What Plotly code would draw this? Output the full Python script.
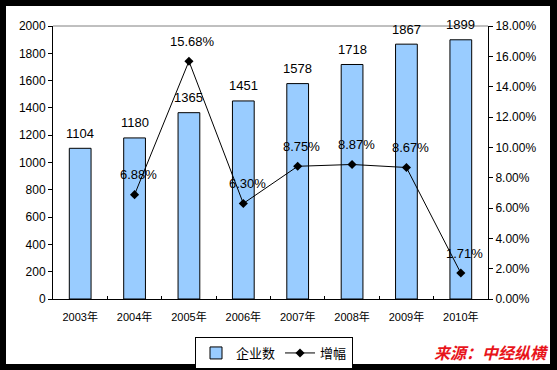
import plotly.graph_objects as go

years = ["2003年", "2004年", "2005年", "2006年", "2007年", "2008年", "2009年", "2010年"]
companies = [1104, 1180, 1365, 1451, 1578, 1718, 1867, 1899]
growth_years = ["2004年", "2005年", "2006年", "2007年", "2008年", "2009年", "2010年"]
growth = [0.0688, 0.1568, 0.0630, 0.0875, 0.0887, 0.0867, 0.0171]
left_ticks = list(range(0, 2001, 200))
right_ticks = [i / 100 for i in range(0, 19, 2)]

FONT = "Liberation Sans, Arial, Noto Sans CJK SC, sans-serif"

fig = go.Figure()
fig.add_trace(go.Bar(
    x=years, y=companies, name="企业数",
    marker=dict(color="#99CCFF", line=dict(color="black", width=1)),
    width=0.4,
))
fig.add_trace(go.Scatter(
    x=growth_years, y=growth, name="增幅", yaxis="y2",
    mode="lines+markers",
    line=dict(color="black", width=1),
    marker=dict(symbol="diamond", size=7, color="black"),
    cliponaxis=False,
))

annotations = []
for x, v in zip(years, companies):
    annotations.append(dict(x=x, y=v, xref="x", yref="y", text=str(v), showarrow=False,
                            yanchor="middle", yshift=15,
                            font=dict(size=13, color="black", family=FONT)))
for x, v in zip(growth_years, growth):
    annotations.append(dict(x=x, y=v, xref="x", yref="y2", text=f"{v*100:.2f}%", showarrow=False,
                            yanchor="middle", yshift=20, xshift=4,
                            font=dict(size=13, color="black", family=FONT)))

L, R, T, B = 53, 69, 26, 71
W, H = 557, 370
pw, ph = W - L - R, H - T - B

def px_x(p):
    return (p - L) / pw

def px_y(p):
    return (H - B - p) / ph

annotations.append(dict(text="<b><i>来源：中经纵横</i></b>", xref="paper", yref="paper",
                        x=px_x(551), y=px_y(352), xanchor="right", yanchor="middle",
                        showarrow=False, font=dict(size=16, color="#E8141B", family="Noto Sans CJK SC")))

fig.update_layout(
    width=W, height=H,
    margin=dict(l=L, r=R, t=T, b=B, pad=0, autoexpand=False),
    paper_bgcolor="black", plot_bgcolor="white",
    font=dict(family=FONT, color="black", size=12),
    bargap=0.6,
    showlegend=True,
    legend=dict(
        orientation="h", x=px_x(195), y=px_y(337), xanchor="left", yanchor="top",
        bordercolor="black", borderwidth=1, bgcolor="white",
        font=dict(size=13, family=FONT), itemwidth=30,
        tracegroupgap=0,
    ),
    xaxis=dict(
        type="category", showline=True, linecolor="black", linewidth=1,
        ticks="inside", tickson="boundaries", ticklen=3, tickcolor="black",
        ticklabelstandoff=8,
        tickfont=dict(size=11), showgrid=False,
    ),
    yaxis=dict(
        range=[0, 2000], tickvals=left_ticks, showline=True, linecolor="black",
        linewidth=1, ticks="outside", ticklen=4, tickcolor="black",
        showgrid=False, tickfont=dict(size=12), zeroline=False,
    ),
    yaxis2=dict(
        range=[0, 0.18], tickvals=right_ticks, tickformat=".2%", overlaying="y",
        side="right", showline=True, linecolor="black", linewidth=1,
        ticks="outside", ticklen=4, tickcolor="black", showgrid=False,
        tickfont=dict(size=12), zeroline=False,
    ),
    shapes=[
        dict(type="rect", xref="paper", yref="paper", x0=px_x(6), x1=px_x(550),
             y0=px_y(364), y1=px_y(6), fillcolor="white", line=dict(width=0), layer="below"),
        dict(type="line", xref="paper", yref="paper", x0=0, x1=1, y0=1, y1=1,
             line=dict(color="#808080", width=1)),
    ],
    annotations=annotations,
)

fig.write_html("out.html", config={"displayModeBar": False},
               post_script="document.body.style.margin='0';document.body.style.overflow='hidden';")
